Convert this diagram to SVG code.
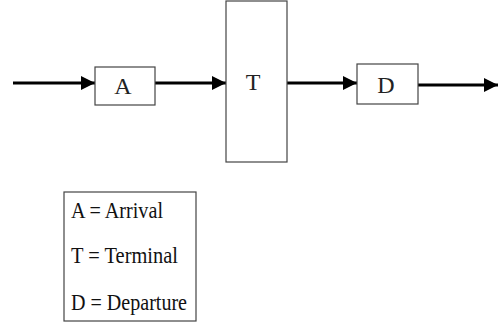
<svg xmlns="http://www.w3.org/2000/svg" width="499" height="326" viewBox="0 0 499 326">
<style>
.box{fill:#fff;stroke:#444;stroke-width:1.2}
.lbl{font-family:"Liberation Serif",serif;font-size:24px;fill:#222;text-anchor:middle}
.leg{font-family:"Liberation Serif",serif;font-size:23px;fill:#111}
.arr{stroke:#000;stroke-width:3;fill:none}
</style>
<defs>
<marker id="ah" markerUnits="userSpaceOnUse" markerWidth="14" markerHeight="14" refX="14" refY="7" orient="auto">
<path d="M0,0 L14,7 L0,14 Z" fill="#000"/>
</marker>
</defs>
<rect width="499" height="326" fill="#fff"/>
<g id="connectors">
<line class="arr" x1="13" y1="83" x2="95" y2="83" marker-end="url(#ah)"/>
<line class="arr" x1="155" y1="83" x2="226" y2="83" marker-end="url(#ah)"/>
<line class="arr" x1="287" y1="83" x2="357" y2="83" marker-end="url(#ah)"/>
<line class="arr" x1="418" y1="85" x2="498" y2="85" marker-end="url(#ah)"/>
</g>
<g id="nodeA">
<rect class="box" x="95" y="67" width="60" height="38"/>
<text class="lbl" x="123" y="94">A</text>
</g>
<g id="nodeT">
<rect class="box" x="226" y="1" width="61" height="161"/>
<text class="lbl" x="253" y="90">T</text>
</g>
<g id="nodeD">
<rect class="box" x="357" y="64" width="61" height="40"/>
<text class="lbl" x="386" y="93">D</text>
</g>
<g id="legend">
<rect class="box" x="64" y="192" width="132" height="129"/>
<text class="leg" x="71" y="218" textLength="92" lengthAdjust="spacingAndGlyphs">A = Arrival</text>
<text class="leg" x="71" y="263" textLength="107" lengthAdjust="spacingAndGlyphs">T = Terminal</text>
<text class="leg" x="71" y="310" textLength="116" lengthAdjust="spacingAndGlyphs">D = Departure</text>
</g>
</svg>
